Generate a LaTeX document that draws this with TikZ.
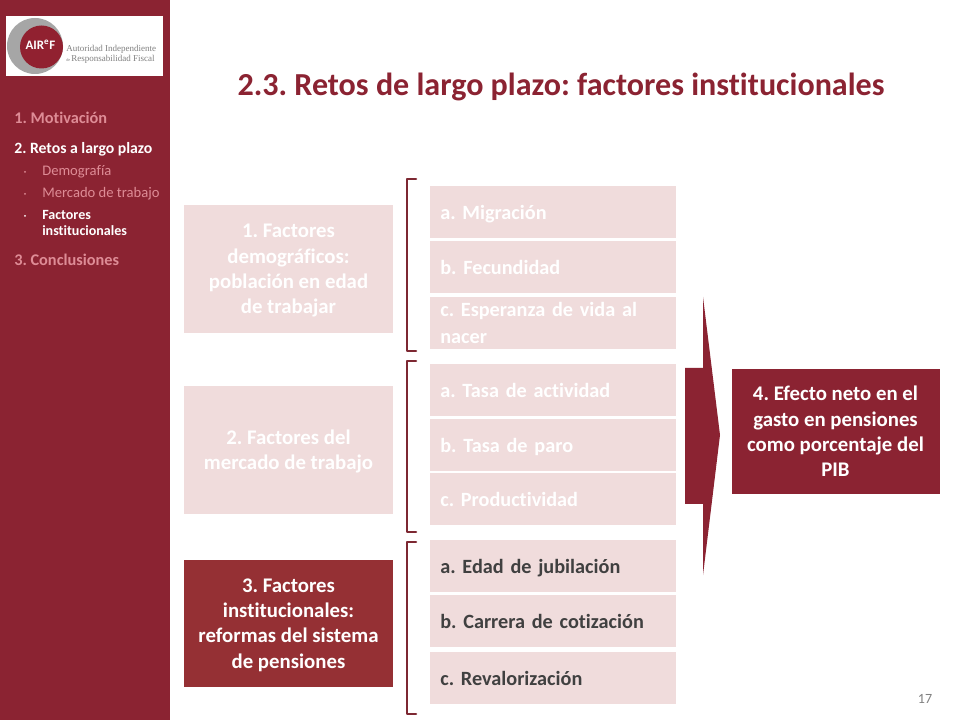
\documentclass[tikz,border=0pt]{standalone}
\usepackage{fontspec}
\setmainfont[Ligatures=NoCommon]{Carlito}
\newfontfamily\logofont{Liberation Serif}
\usepackage{color}
\definecolor{vino}{RGB}{139,35,50}
\definecolor{rojo}{RGB}{149,48,52}
\definecolor{palido}{RGB}{240,220,220}
\definecolor{menu}{RGB}{222,140,150}
\definecolor{corchete}{RGB}{125,40,50}
\tikzset{
  factor/.style={fill=palido,text=white,font=\frenchspacing\fontsize{14.8}{18}\selectfont\bfseries,align=center,inner sep=0pt},
  factorbajo/.style={factor,text depth=0pt},
  reto/.style={fill=palido,text=white,font=\frenchspacing\fontsize{14.4}{19}\selectfont\bfseries,anchor=north west,minimum width=246*0.025cm,minimum height=52*0.025cm,inner sep=0pt,inner xsep=10*0.025cm,align=left,text width=226*0.025cm},
  retouno/.style={reto,text height=10pt,text depth=0pt},
  retoon/.style={retouno,text=black!75},
  corchete/.style={draw=corchete,line width=1.8pt,line cap=round,line join=round},
  entrada/.style={anchor=west,inner sep=0pt,font=\frenchspacing\fontsize{11.2}{12}\selectfont\bfseries,text=menu},
  sub/.style={entrada,font=\frenchspacing\fontsize{10.4}{10.8}\selectfont}
}
\begin{document}
\begin{tikzpicture}[line cap=round,line join=round,x=0.025cm,y=-0.025cm]
      \useasboundingbox (0,0) rectangle (960,720);
      % barra lateral
      \fill [color=vino] (0,0) rectangle (170,720);
      \fill [color=white] (6,16) rectangle (163,76);
      \fill [color=black!35] (35,46) circle (28);
      \fill [color=vino!95!red] (41.5,47) circle (21.5);
      \node [inner sep=0pt,text=white,font=\fontsize{9.2}{10}\selectfont\bfseries] (sigla) at (40.5,45) {AIR\textsuperscript{e}F};
      \node [anchor=west,inner sep=0pt,text=black!50,align=left,font=\logofont\fontsize{6.4}{7}\selectfont] (nombre) at (66,54) {Autoridad Independiente\\ \fontsize{3}{3}\selectfont de \fontsize{6.4}{7}\selectfont Responsabilidad Fiscal};
      % menu
      \node [entrada,font=\frenchspacing\fontsize{11.6}{12}\selectfont\bfseries] (mot) at (14,118) {1. Motivación};
      \node [entrada,text=white] (ret) at (14,149.5) {2. Retos a largo plazo};
      \node [sub] (dem) at (42,172) {Demografía};
      \node [sub] (mer) at (42,194) {Mercado de trabajo};
      \node [sub,text=white,align=left,font=\fontsize{10}{10.8}\selectfont\bfseries] (fac) at (42,223) {Factores\\institucionales};
      \node [entrada,font=\frenchspacing\fontsize{11.6}{12}\selectfont\bfseries] (con) at (14,260) {3. Conclusiones};
      \fill [color=menu] (25,172) circle (1);
      \fill [color=menu] (25,194) circle (1);
      \fill [color=white] (25,216) circle (1);
      % titulo
      \node [inner sep=0pt,text=vino,font=\frenchspacing\fontsize{22.8}{24}\selectfont\bfseries] (titulo) at (561,87) {2.3. Retos de largo plazo: factores institucionales};
      % factores
      \node [factorbajo,minimum width=209*0.025cm,minimum height=128*0.025cm] (f1) at (288.5,269) {1. Factores\\demográficos:\\población en edad\\de trabajar};
      \node [factorbajo,minimum width=209*0.025cm,minimum height=128*0.025cm] (f2) at (288.5,450) {2. Factores del\\mercado de trabajo};
      \node [factorbajo,fill=rojo,minimum width=209*0.025cm,minimum height=127*0.025cm] (f3) at (288.5,623.5) {3. Factores\\institucionales:\\reformas del sistema\\de pensiones};
      % retos
      \node [retouno] (m) at (430,186) {a. Migración};
      \node [retouno] (fe) at (430,241) {b. Fecundidad};
      \node [reto] (es) at (430,297) {c. Esperanza de vida al\\nacer};
      \node [retouno] (ta) at (430,364) {a. Tasa de actividad};
      \node [retouno] (tp) at (430,419) {b. Tasa de paro};
      \node [retouno] (pr) at (430,473) {c. Productividad};
      \node [retoon] (ej) at (430,540) {a. Edad de jubilación};
      \node [retoon] (cc) at (430,595) {b. Carrera de cotización};
      \node [retoon] (re) at (430,652) {c. Revalorización};
      % corchetes
      \draw [corchete] (416,179)-- (407,179)-- (407,351)-- (416,351);
      \draw [corchete] (416,361)-- (407,361)-- (407,532)-- (416,532);
      \draw [corchete] (416,542)-- (407,542)-- (407,714)-- (416,714);
      % flecha
      \fill [color=vino] (685,368)-- (703,368)-- (703,297)-- (720,435)-- (703,575)-- (703,504)-- (685,504)-- cycle;
      \node [factor,fill=vino,minimum width=208*0.025cm,minimum height=125*0.025cm] (efecto) at (835.5,431.5) {4. Efecto neto en el\\gasto en pensiones\\como porcentaje del\\PIB};
      \node [inner sep=0pt,text=black!50,font=\fontsize{10}{12}\selectfont] (pag) at (925,699) {17};
\end{tikzpicture}
\end{document}
